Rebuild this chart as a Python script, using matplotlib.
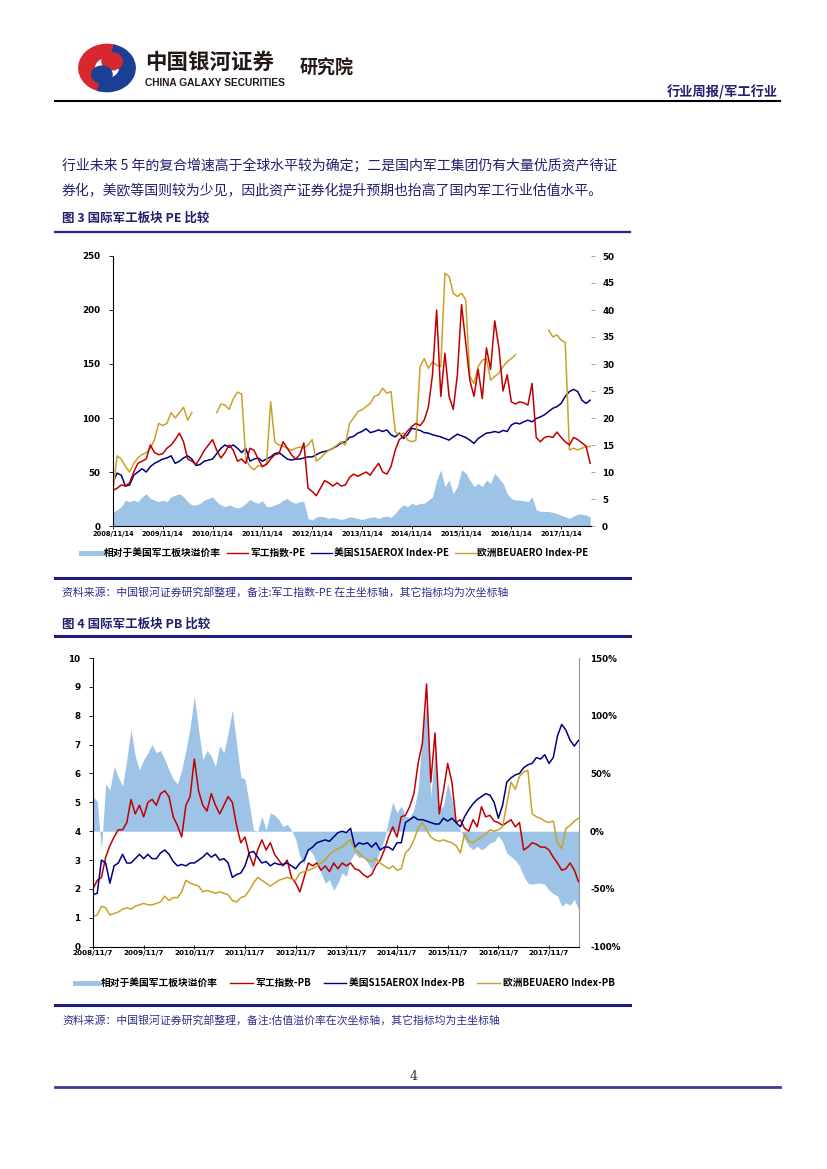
import numpy as np
import matplotlib
matplotlib.use("Agg")
import matplotlib.pyplot as plt
from matplotlib.lines import Line2D
from matplotlib.patches import Wedge, Circle

nan = np.nan

# ---- data: monthly readings, PE chart starts 2008/11/14, PB chart 2008/11/7 ----
pe_ticks = ["2008/11/14", "2009/11/14", "2010/11/14", "2011/11/14", "2012/11/14",
            "2013/11/14", "2014/11/14", "2015/11/14", "2016/11/14", "2017/11/14"]
pb_ticks = ["2008/11/7", "2009/11/7", "2010/11/7", "2011/11/7", "2012/11/7",
            "2013/11/7", "2014/11/7", "2015/11/7", "2016/11/7", "2017/11/7"]

# 军工指数-PE (primary axis)
pe_cn = [33, 35, 38, 37, 40, 50, 58, 60, 62, 75, 68, 66,
         67, 72, 75, 80, 86, 78, 62, 60, 57, 63, 70, 75,
         80, 70, 63, 68, 75, 70, 60, 62, 58, 72, 70, 62,
         55, 57, 62, 66, 67, 78, 72, 66, 62, 66, 77, 35,
         32, 28, 35, 42, 40, 37, 40, 37, 38, 45, 48, 46,
         48, 50, 47, 53, 58, 50, 48, 55, 70, 80, 83, 88,
         92, 95, 93, 98, 110, 140, 200, 120, 160, 120, 108, 140,
         205, 170, 135, 120, 145, 118, 165, 145, 190, 165, 125, 140,
         115, 113, 115, 114, 112, 132, 82, 78, 82, 83, 82, 87,
         82, 78, 75, 82, 80, 77, 74, 58]
# 美国S15AEROX Index-PE (secondary axis)
pe_us = [8.2, 9.8, 9.4, 7.4, 7.6, 9.4, 10, 10.6, 10, 11, 11.6, 12,
         12.4, 12.6, 13, 11.6, 12, 12.6, 13, 12.4, 11.2, 11.4, 12, 12.2,
         12.4, 13.4, 14.4, 15, 14.6, 15, 14.4, 13.6, 14.4, 12, 12.4, 12.6,
         12, 12.4, 12.8, 13.4, 13.6, 13, 12.4, 12.2, 12.4, 12.4, 12.6, 12.8,
         12.8, 13.2, 13.6, 13.8, 14, 14.4, 14.8, 15.4, 15.6, 16.4, 16.6, 17.2,
         17.5, 18, 17.3, 17.5, 17.8, 17.5, 17.8, 16.9, 16.5, 17.2, 16.2, 16.9,
         18.1, 17.9, 17.7, 17.3, 17.2, 16.9, 16.7, 16.5, 16.2, 15.9, 16.5, 17,
         16.7, 16.4, 15.9, 15.3, 16.2, 16.7, 17.2, 17.3, 17.5, 17.3, 17.7, 17.5,
         18.7, 19.1, 18.9, 19.3, 19.6, 19.3, 19.9, 20.2, 20.6, 21.2, 21.8, 22.1,
         22.7, 24, 24.9, 25.3, 24.9, 23.3, 22.7, 23.3]
# 欧洲BEUAERO Index-PE (secondary axis)
pe_eu = [6.6, 13, 12.4, 11, 10, 11.6, 12.6, 13.2, 13.6, 14.4, 16, 19,
         18.6, 19, 21, 20, 21, 22, 19.6, 21, nan, nan, nan, nan,
         nan, 21, 22.6, 22.4, 21.6, 23.6, 24.8, 24.4, 12.4, 11, 10.4, 11.2,
         11, 11.6, 23, 15.6, 15, 14.8, 14.4, 14, 14.4, 14.6, 14.4, 15,
         16, 12, 12.6, 13.4, 14, 14.4, 15, 15.6, 15, 19, 20, 21.2,
         21.5, 22.1, 22.7, 24, 24.3, 25.5, 24.6, 24.9, 17.5, 16.9, 17.2, 15.9,
         15.6, 15.9, 29.5, 31, 29.2, 30.4, 29.8, 29.5, 46.8, 46.2, 43.1, 42.5,
         43.1, 41.9, 27.7, 26.4, 29.5, 30.7, 31, 27, 27.7, 28.3, 29.5, 30.4,
         31, 31.7, nan, nan, nan, nan, nan, nan, nan, 36.3, 35, 35.4,
         34.4, 34, 14.1, 14.4, 14.1, 14.4, 14.7, 14.7]
# 相对于美国军工板块溢价率 (secondary axis)
pe_prem = [2.6, 3, 3.6, 4.8, 4.5, 4.8, 4.5, 5.4, 6, 5.1, 4.8, 4.5,
           4.8, 4.5, 5.4, 5.7, 6, 5.4, 4.5, 3.9, 3.9, 4.2, 4.8, 5.1,
           5.4, 4.5, 3.9, 3.6, 3.9, 3.6, 3.3, 3.6, 4.2, 4.9, 4.5, 4.2,
           4.7, 3.6, 3.6, 3.9, 4.2, 4.8, 5.1, 4.5, 4.2, 4.5, 4.5, 1.4,
           1.1, 1.7, 1.8, 1.7, 1.4, 1.6, 1.4, 1.2, 1.4, 1.7, 1.6, 1.4,
           1.2, 1.4, 1.6, 1.7, 1.4, 1.7, 1.85, 1.6, 2.3, 3.3, 3.9, 3.6,
           4.2, 3.9, 4.2, 4.2, 4.8, 5.4, 8.5, 10.4, 7.3, 8.5, 6, 7.3,
           10.4, 9.8, 8.5, 7.3, 7.9, 7.3, 8.5, 7.9, 9.8, 8.8, 7.9, 6,
           5.1, 4.8, 4.8, 4.7, 4.5, 5.4, 3, 2.7, 2.7, 2.7, 2.5, 2.3,
           2, 1.7, 1.4, 1.85, 2.2, 2.2, 2, 1.7]

# 军工指数-PB
pb_cn = [2.0, 2.3, 2.4, 3.1, 3.5, 3.8, 4.05, 4.05, 4.3, 5.1, 4.6, 4.9,
         4.5, 5.0, 5.1, 4.9, 5.3, 5.4, 5.2, 4.5, 4.2, 3.8, 4.9, 5.2,
         6.5, 5.4, 4.9, 4.7, 5.3, 4.9, 4.6, 4.9, 5.2, 5.0, 4.2, 3.6,
         3.8, 3.2, 2.8, 3.35, 3.7, 3.35, 3.6, 3.2, 3.0, 2.8, 3.0, 2.4,
         2.2, 1.9, 2.4, 2.9, 2.8, 2.9, 2.65, 2.8, 2.6, 2.9, 2.7, 2.9,
         2.8, 2.9, 2.7, 2.65, 2.5, 2.4, 2.5, 2.8, 3.0, 3.35, 3.8, 4.15,
         3.8, 4.5, 4.55, 4.85, 5.3, 6.35, 7.05, 9.1, 5.7, 7.4, 4.6, 5.4,
         6.35, 5.7, 4.3, 4.4, 4.1, 4.0, 4.4, 4.15, 4.85, 4.5, 4.55, 4.35,
         4.3, 4.2, 4.3, 4.4, 4.15, 4.3, 3.35, 3.45, 3.6, 3.55, 3.45, 3.45,
         3.35, 3.1, 2.9, 2.65, 2.7, 2.9, 2.65, 2.25]
# 美国S15AEROX Index-PB
pb_us = [1.8, 1.85, 3.0, 2.9, 2.2, 2.8, 2.9, 3.2, 2.9, 2.9, 3.05, 3.2,
         3.05, 3.2, 3.05, 3.05, 3.25, 3.35, 3.2, 2.95, 2.8, 2.85, 2.8, 2.9,
         2.9, 3.0, 3.1, 3.25, 3.1, 3.2, 3.0, 3.05, 2.9, 2.4, 2.5, 2.55,
         2.8, 3.25, 3.3, 3.1, 2.9, 2.95, 2.8, 2.9, 2.85, 2.85, 2.9, 2.8,
         2.7, 2.9, 3.0, 3.35, 3.45, 3.6, 3.65, 3.7, 3.65, 3.8, 3.95, 4.0,
         3.95, 4.1, 3.45, 3.6, 3.55, 3.6, 3.45, 3.6, 3.35, 3.45, 3.45, 3.35,
         3.6, 3.6, 4.3, 4.4, 4.5, 4.4, 4.4, 4.35, 4.3, 4.25, 4.25, 4.45,
         4.35, 4.45, 4.3, 4.15, 4.5, 4.75, 4.95, 5.1, 5.2, 5.3, 5.25, 5.0,
         4.45, 4.9, 5.7, 5.85, 5.95, 6.0, 6.2, 6.3, 6.35, 6.55, 6.5, 6.65,
         6.35, 6.55, 7.3, 7.7, 7.5, 7.15, 6.95, 7.15]
# 欧洲BEUAERO Index-PB
pb_eu = [1.05, 1.1, 1.4, 1.35, 1.1, 1.15, 1.2, 1.3, 1.35, 1.3, 1.4, 1.45,
         1.5, 1.45, 1.45, 1.5, 1.55, 1.75, 1.6, 1.7, 1.7, 1.9, 2.3, 2.2,
         2.15, 2.1, 1.9, 1.95, 1.9, 1.85, 1.9, 1.85, 1.8, 1.6, 1.55, 1.7,
         1.75, 1.95, 2.2, 2.4, 2.3, 2.2, 2.1, 2.2, 2.3, 2.35, 2.4, 2.35,
         2.3, 2.55, 2.6, 2.65, 2.7, 2.8, 2.9, 3.0, 3.2, 3.3, 3.4, 3.45,
         3.6, 3.7, 3.35, 3.25, 3.1, 3.0, 2.95, 3.05, 2.9, 2.8, 2.7, 2.8,
         2.65, 2.7, 3.25, 3.4, 3.7, 4.1, 4.3, 4.05, 3.8, 3.7, 3.65, 3.7,
         3.65, 3.6, 3.5, 3.25, 3.9, 3.65, 3.6, 3.7, 3.8, 3.9, 4.05, 4.0,
         4.05, 4.15, 4.95, 5.7, 5.45, 5.9, 6.05, 6.1, 4.6, 4.5, 4.45, 4.35,
         4.3, 4.35, 3.6, 3.4, 4.1, 4.2, 4.35, 4.45]
# 相对于美国军工板块溢价率 (%, secondary axis)
pb_prem = [30, 26, -16, 41, 36, 56, 47, 39, 62, 88, 65, 53,
           62, 68, 75, 68, 70, 62, 53, 45, 41, 53, 70, 90,
           117, 88, 62, 70, 65, 56, 74, 68, 85, 105, 76, 47,
           45, 24, 1, 0, 13, 1, 16, 14, 10, 4, 6, 1,
           -7, -22, -28, -16, -19, -28, -36, -45, -42, -51, -45, -36,
           -39, -25, -19, -23, -22, -27, -33, -27, -16, -7, 10, 25,
           16, 22, 13, 12, 19, 36, 85, 111, 30, 71, 19, 22,
           42, 27, 7, 1, -7, -13, -16, -13, -16, -14, -10, -9,
           -4, -9, -19, -22, -25, -30, -39, -45, -46, -45, -45, -46,
           -51, -54, -56, -65, -62, -64, -59, -68]

legend_pe = ["相对于美国军工板块溢价率", "军工指数-PE", "美国S15AEROX Index-PE", "欧洲BEUAERO Index-PE"]
legend_pb = ["相对于美国军工板块溢价率", "军工指数-PB", "美国S15AEROX Index-PB", "欧洲BEUAERO Index-PB"]

RED = "#c00000"
NAVY = "#000080"
GOLD = "#c9a227"
AREA = "#9dc3e6"
TXT = "#20206e"

plt.rcParams['font.family'] = ['Noto Sans CJK SC', 'DejaVu Sans']
CJK = ['Noto Sans CJK SC', 'DejaVu Sans']

W, H = 827, 1169
fig = plt.figure(figsize=(W / 100, H / 100), dpi=100)
fig.patch.set_facecolor("white")


def fx(x):
    return x / W


def fy(y):
    return 1 - y / H


def hline(y, x0, x1, color, lw):
    fig.add_artist(Line2D([fx(x0), fx(x1)], [fy(y), fy(y)], color=color, lw=lw))


# ---- header ----
axl = fig.add_axes([fx(76), fy(94), 62 / W, 52 / H])
axl.set_xlim(-1.1, 1.1)
axl.set_ylim(-1.1, 1.1)
axl.axis("off")
axl.add_patch(Wedge((0, 0), 1.0, 70, 255, width=0.55, color="#d7282f"))
axl.add_patch(Wedge((0, 0), 1.0, 250, 75, width=0.55, color="#1b3f94"))
axl.add_patch(Circle((0.18, 0.28), 0.36, color="#d7282f"))
axl.add_patch(Circle((-0.18, -0.28), 0.36, color="#1b3f94"))

fig.text(fx(145), fy(62), "中国银河证券", fontsize=15.5, fontweight="bold", color="#231815", va="center")
fig.text(fx(145), fy(83), "CHINA GALAXY SECURITIES", fontsize=7.3, fontweight="bold",
         family="Liberation Sans", color="#231815", va="center")
fig.text(fx(300), fy(68), "研究院", fontsize=13, fontweight="bold", color="#231815", va="center")
fig.text(fx(778), fy(92), "行业周报/军工行业", fontsize=9.5, fontweight="bold", color=TXT,
         ha="right", va="center")
hline(101, 55, 780, "black", 1.5)

# ---- body text ----
fig.text(fx(62), fy(166), "行业未来 5 年的复合增速高于全球水平较为确定；二是国内军工集团仍有大量优质资产待证",
         fontsize=10, color=TXT, va="center")
fig.text(fx(62), fy(191), "券化，美欧等国则较为少见，因此资产证券化提升预期也抬高了国内军工行业估值水平。",
         fontsize=10, color=TXT, va="center")

fig.text(fx(62), fy(218), "图 3 国际军工板块 PE 比较", fontsize=9, fontweight="bold", color=TXT, va="center")
hline(232, 55, 630, "#26268a", 1.6)

# ---- chart 3: PE ----
months = np.arange(len(pe_cn))
ax1 = fig.add_axes([fx(113), fy(526), (591 - 113) / W, (526 - 256) / H])
ax1b = ax1.twinx()
ax1b.fill_between(months, pe_prem, 0, color=AREA, lw=0)
ax1b.plot(months, pe_us, color=NAVY, lw=1.1)
ax1b.plot(months, pe_eu, color=GOLD, lw=1.1)
ax1.plot(months, pe_cn, color=RED, lw=1.1)
ax1.set_zorder(ax1b.get_zorder() + 1)
ax1.patch.set_visible(False)

ax1.set_xlim(0, 115.2)
ax1.set_ylim(0, 250)
ax1b.set_ylim(0, 50)
ax1.set_xticks(np.arange(0, 120, 12), pe_ticks, fontsize=4.8, fontweight="bold", family="DejaVu Sans")
ax1.set_yticks(np.arange(0, 251, 50), [str(v) for v in range(0, 251, 50)],
               fontsize=6.3, fontweight="bold", family="DejaVu Sans")
ax1b.set_yticks(np.arange(0, 51, 5), [str(v) for v in range(0, 51, 5)],
                fontsize=6.3, fontweight="bold", family="DejaVu Sans")
for s in ["top", "right"]:
    ax1.spines[s].set_visible(False)
for s in ax1b.spines.values():
    s.set_visible(False)
ax1.spines["left"].set_linewidth(0.8)
ax1.spines["bottom"].set_linewidth(0.8)
ax1.tick_params(axis="y", length=3, width=0.6, pad=6)
ax1.tick_params(axis="x", length=2, width=0.6, pad=1.5)
ax1b.tick_params(axis="y", length=3, width=0.6, color="#999999", pad=5)

h_pe = [Line2D([], [], color=AREA, lw=3.5), Line2D([], [], color=RED, lw=1),
        Line2D([], [], color=NAVY, lw=1), Line2D([], [], color=GOLD, lw=1)]
fig.legend(h_pe, legend_pe, loc="center", bbox_to_anchor=(fx(335), fy(553)), ncol=4, frameon=False,
           prop={"family": CJK, "size": 7.0, "weight": "bold"}, handlelength=2.2,
           handletextpad=0.15, columnspacing=0.6)

hline(578, 55, 630, "#1f1f80", 2.2)
fig.text(fx(62), fy(592), "资料来源：中国银河证券研究部整理，备注:军工指数-PE 在主坐标轴，其它指标均为次坐标轴",
         fontsize=7.8, color="#2d2d8a", va="center", style="italic")

fig.text(fx(62), fy(624), "图 4 国际军工板块 PB 比较", fontsize=9, fontweight="bold", color=TXT, va="center")
hline(636, 55, 630, "#1f1f80", 2.2)

# ---- chart 4: PB ----
ax2 = fig.add_axes([fx(93), fy(946.7), (579 - 93) / W, (946.7 - 658) / H])
ax2b = ax2.twinx()
ax2b.fill_between(months, pb_prem, 0, color=AREA, lw=0)
ax2.plot(months, pb_cn, color=RED, lw=1.1)
ax2.plot(months, pb_us, color=NAVY, lw=1.1)
ax2.plot(months, pb_eu, color=GOLD, lw=1.1)
ax2.set_zorder(ax2b.get_zorder() + 1)
ax2.patch.set_visible(False)

ax2.set_xlim(0, 115.1)
ax2.set_ylim(0, 10)
ax2b.set_ylim(-100, 150)
ax2.set_xticks(np.arange(0, 120, 12), pb_ticks, fontsize=5.2, fontweight="bold", family="DejaVu Sans")
ax2.set_yticks(np.arange(0, 11), [str(v) for v in range(0, 11)],
               fontsize=6.3, fontweight="bold", family="DejaVu Sans")
ax2b.set_yticks(np.arange(-100, 151, 50), [f"{v}%" for v in range(-100, 151, 50)],
                fontsize=6.3, fontweight="bold", family="DejaVu Sans")
for s in ["top", "right"]:
    ax2.spines[s].set_visible(False)
for s in ["top", "left", "bottom"]:
    ax2b.spines[s].set_visible(False)
ax2b.spines["right"].set_color("#999999")
ax2b.spines["right"].set_linewidth(0.8)
ax2.spines["left"].set_linewidth(0.8)
ax2.spines["bottom"].set_linewidth(0.8)
ax2.tick_params(axis="y", length=3, width=0.6, pad=6)
ax2.tick_params(axis="x", length=3, width=0.6, direction="inout", pad=1)
ax2b.tick_params(axis="y", length=0, pad=8)

h_pb = [Line2D([], [], color=AREA, lw=3.5), Line2D([], [], color=RED, lw=1),
        Line2D([], [], color=NAVY, lw=1), Line2D([], [], color=GOLD, lw=1)]
fig.legend(h_pb, legend_pb, loc="center", bbox_to_anchor=(fx(345), fy(983)), ncol=4, frameon=False,
           prop={"family": CJK, "size": 7.0, "weight": "bold"}, handlelength=2.3,
           handletextpad=0.3, columnspacing=1.3)

hline(1005, 55, 630, "#1f1f80", 2.2)
fig.text(fx(62), fy(1020), "资料来源：中国银河证券研究部整理，备注:估值溢价率在次坐标轴，其它指标均为主坐标轴",
         fontsize=7.8, color="#2d2d8a", va="center", style="italic")

# ---- footer ----
fig.text(fx(414), fy(1077), "4", fontsize=9, color="#333333", ha="center", va="center", family="DejaVu Serif")
hline(1087, 55, 780, "#3a3a9a", 2.0)

fig.savefig("out.png", dpi=100)
